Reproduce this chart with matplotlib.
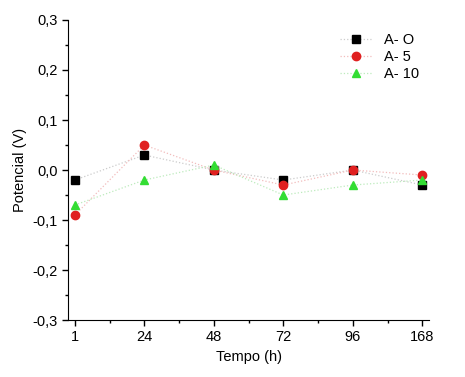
import matplotlib.pyplot as plt
import numpy as np

plt.rcParams['font.family'] = ['Liberation Sans', 'DejaVu Sans']

tempo = ['1', '24', '48', '72', '96', '168']
a_o = [-0.02, 0.03, 0.0, -0.02, 0.0, -0.03]
a_5 = [-0.09, 0.05, 0.0, -0.03, 0.0, -0.01]
a_10 = [-0.07, -0.02, 0.01, -0.05, -0.03, -0.02]

x = np.arange(len(tempo))

fig = plt.figure(figsize=(4.65, 3.77), dpi=100)
ax = fig.add_axes([0.146, 0.151, 0.777, 0.796])

# thin pale dotted lines, solid markers
ax.plot(x, a_o, color='#cccccc', linestyle=':', linewidth=0.9, marker='s', markersize=5.5,
        markerfacecolor='black', markeredgecolor='black', label='A- O')
ax.plot(x, a_5, color='#f2bcbc', linestyle=':', linewidth=0.9, marker='o', markersize=6,
        markerfacecolor='#e02020', markeredgecolor='#e02020', label='A- 5')
ax.plot(x, a_10, color='#bdebbd', linestyle=':', linewidth=0.9, marker='^', markersize=6,
        markerfacecolor='#33dd33', markeredgecolor='#33dd33', label='A- 10')

ax.set_xlim(-0.1, 5.1)
ax.set_ylim(-0.3, 0.3)
ax.set_xticks(x)
ax.set_xticklabels(tempo)
ax.set_xticks(x[:-1] + 0.5, minor=True)
ax.set_yticks(np.arange(-0.3, 0.31, 0.1))
ax.set_yticklabels(['-0,3', '-0,2', '-0,1', '0,0', '0,1', '0,2', '0,3'])
ax.set_yticks(np.arange(-0.25, 0.3, 0.1), minor=True)

ax.spines['top'].set_visible(False)
ax.spines['right'].set_visible(False)
ax.tick_params(which='major', length=4, width=1, labelsize=10.5)
ax.tick_params(which='minor', length=2.5, width=1)

ax.set_xlabel('Tempo (h)', fontsize=10.5)
ax.set_ylabel('Potencial (V)', fontsize=10.5)

ax.legend(loc='upper right', bbox_to_anchor=(1.0, 0.99), frameon=False, fontsize=10.5,
          handlelength=2.2, labelspacing=0.2, borderaxespad=0.3)

plt.savefig('out.png', dpi=100)
